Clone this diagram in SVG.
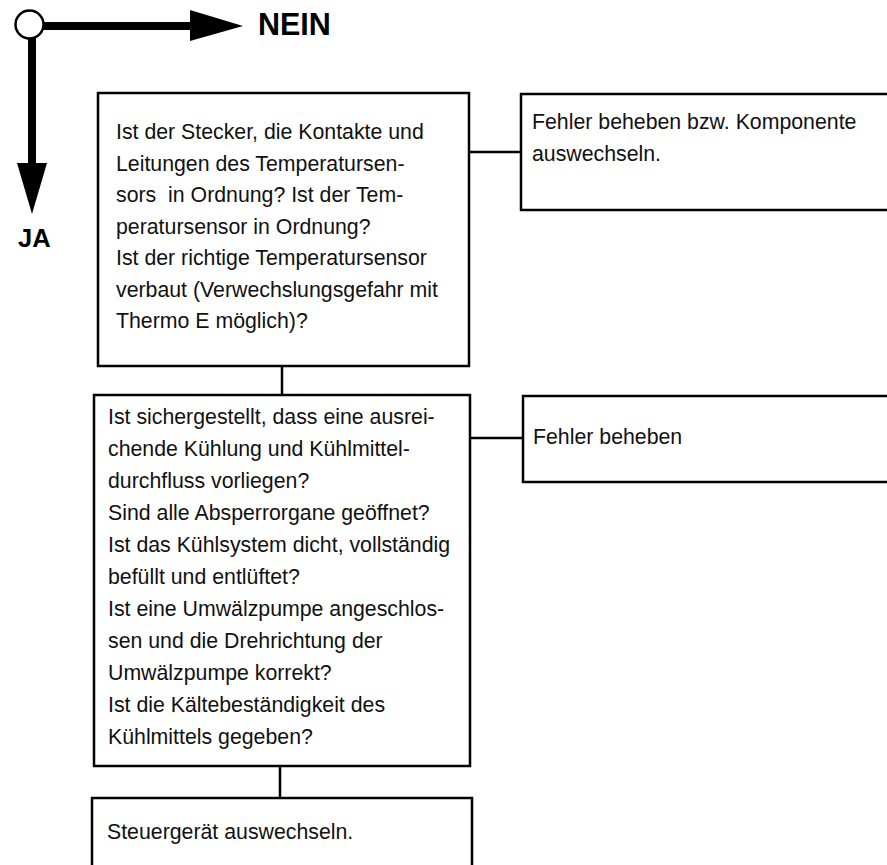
<svg xmlns="http://www.w3.org/2000/svg" width="887" height="865" viewBox="0 0 887 865">
<style>
.box{fill:#fff;stroke:#000;stroke-width:2.5}
.t{font-family:"Liberation Sans",Arial,sans-serif;font-size:21.3px;fill:#111}
.b{font-family:"Liberation Sans",Arial,sans-serif;font-weight:bold;fill:#000}
.c{stroke:#000;stroke-width:2.5;fill:none}
</style>
<rect width="887" height="865" fill="#fff"/>
<g id="legend">
<line x1="32" y1="26" x2="195" y2="26" stroke="#000" stroke-width="8"/>
<polygon points="190,10 243,26 190,41" fill="#000"/>
<line x1="32" y1="26" x2="32" y2="168" stroke="#000" stroke-width="8"/>
<polygon points="17,163 32,214 47,163" fill="#000"/>
<circle cx="29.5" cy="24.5" r="14" fill="#fff" stroke="#000" stroke-width="2.5"/>
<text class="b" x="258" y="35" font-size="30.5">NEIN</text>
<text class="b" x="18" y="247" font-size="25.5">JA</text>
</g>
<g id="connectors">
<line class="c" x1="469" y1="152" x2="521" y2="152"/>
<line class="c" x1="282" y1="366" x2="282" y2="395"/>
<line class="c" x1="470" y1="438" x2="523" y2="438"/>
<line class="c" x1="280" y1="766" x2="280" y2="798"/>
</g>
<g id="q1">
<rect class="box" x="98" y="93" width="371" height="273"/>
<text class="t" x="116" y="139">Ist der Stecker, die Kontakte und</text>
<text class="t" x="116" y="170.5">Leitungen des Temperatursen-</text>
<text class="t" x="116" y="202">sors&#160; in Ordnung? Ist der Tem-</text>
<text class="t" x="116" y="233.5">peratursensor in Ordnung?</text>
<text class="t" x="116" y="265">Ist der richtige Temperatursensor</text>
<text class="t" x="116" y="296.5">verbaut (Verwechslungsgefahr mit</text>
<text class="t" x="116" y="328">Thermo E möglich)?</text>
</g>
<g id="a1">
<rect class="box" x="521" y="94" width="380" height="116"/>
<text class="t" x="532" y="129">Fehler beheben bzw. Komponente</text>
<text class="t" x="532" y="161">auswechseln.</text>
</g>
<g id="q2">
<rect class="box" x="94" y="395" width="376" height="371"/>
<text class="t" x="108" y="424">Ist sichergestellt, dass eine ausrei-</text>
<text class="t" x="108" y="456">chende Kühlung und Kühlmittel-</text>
<text class="t" x="108" y="488">durchfluss vorliegen?</text>
<text class="t" x="108" y="520">Sind alle Absperrorgane geöffnet?</text>
<text class="t" x="108" y="552">Ist das Kühlsystem dicht, vollständig</text>
<text class="t" x="108" y="584">befüllt und entlüftet?</text>
<text class="t" x="108" y="616">Ist eine Umwälzpumpe angeschlos-</text>
<text class="t" x="108" y="648">sen und die Drehrichtung der</text>
<text class="t" x="108" y="680">Umwälzpumpe korrekt?</text>
<text class="t" x="108" y="712">Ist die Kältebeständigkeit des</text>
<text class="t" x="108" y="744">Kühlmittels gegeben?</text>
</g>
<g id="a2">
<rect class="box" x="523" y="396" width="380" height="86"/>
<text class="t" x="533" y="444">Fehler beheben</text>
</g>
<g id="a3">
<rect class="box" x="92" y="798" width="380" height="90"/>
<text class="t" x="107" y="839">Steuergerät auswechseln.</text>
</g>
</svg>
